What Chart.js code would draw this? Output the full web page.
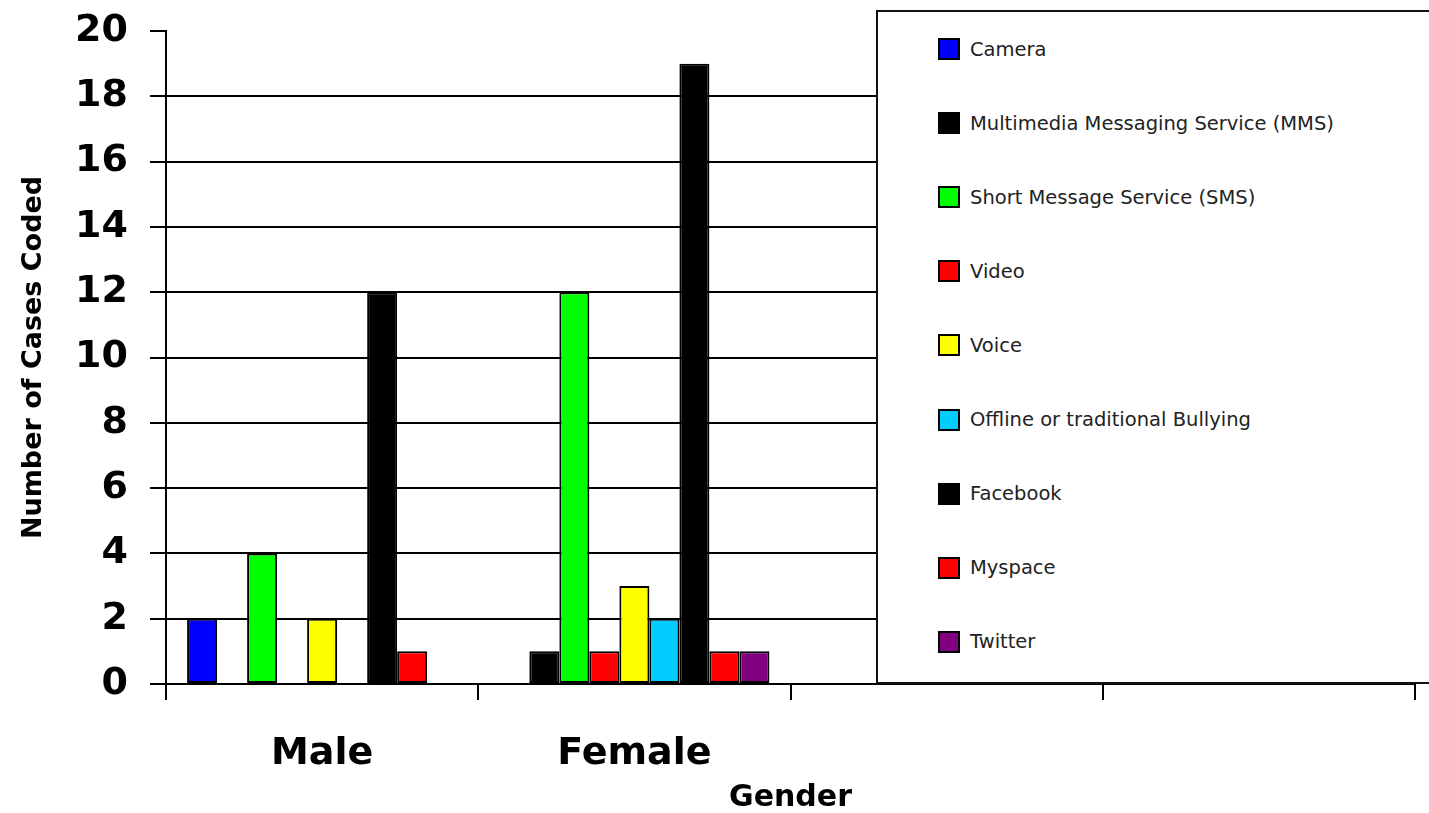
<!DOCTYPE html>
<html>
<head>
<meta charset="utf-8">
<script src="https://cdn.jsdelivr.net/npm/chart.js@4.4.1/dist/chart.umd.min.js"></script>
<style>
  html, body { margin: 0; padding: 0; background: #fff; overflow: hidden; }
  #wrap { position: relative; width: 1429px; height: 813px; }
  #legend {
    position: absolute; left: 876px; top: 10px; width: 600px; height: 674px;
    box-sizing: border-box; border: 2px solid #111; background: #fff;
  }
  .item {
    position: absolute; left: 60px; height: 30px; display: flex; align-items: center;
    font-family: 'DejaVu Sans'; font-size: 19.5px; color: #222; white-space: nowrap;
  }
  .swatch { width: 18px; height: 18px; border: 2px solid #000; margin-right: 10px; flex: none; }
</style>
</head>
<body>
<div id="wrap">
  <canvas id="chart" width="1429" height="813"></canvas>
  <div id="legend"></div>
</div>
<script>
// Gender groups on the x axis (two empty slots follow the labelled groups)
const categories = ['Male', 'Female', '', ''];

// Y axis tick values
const yTicks = [0, 2, 4, 6, 8, 10, 12, 14, 16, 18, 20];

// Series, one list of counts per gender group
const seriesNames = [
  'Camera',
  'Multimedia Messaging Service (MMS)',
  'Short Message Service (SMS)',
  'Video',
  'Voice',
  'Offline or traditional Bullying',
  'Facebook',
  'Myspace',
  'Twitter'
];
const camera   = [2, 0, null, null];
const mms      = [0, 1, null, null];
const sms      = [4, 12, null, null];
const video    = [0, 1, null, null];
const voice    = [2, 3, null, null];
const offline  = [0, 2, null, null];
const facebook = [12, 19, null, null];
const myspace  = [1, 1, null, null];
const twitter  = [0, 1, null, null];

const seriesValues = [camera, mms, sms, video, voice, offline, facebook, myspace, twitter];
const seriesColors = ['#0000FF', '#000000', '#00FF00', '#FF0000', '#FFFF00', '#00CCFF', '#000000', '#FF0000', '#800080'];

Chart.defaults.font.family = "'DejaVu Sans'";
Chart.defaults.color = '#000';

const datasets = seriesNames.map((name, i) => ({
  label: name,
  data: seriesValues[i],
  backgroundColor: seriesColors[i],
  borderColor: '#000',
  borderWidth: 2,
  borderSkipped: false,
  categoryPercentage: 0.865,
  barPercentage: 1.0
}));

const chart = new Chart(document.getElementById('chart'), {
  type: 'bar',
  data: { labels: categories, datasets },
  options: {
    responsive: false,
    animation: false,
    devicePixelRatio: 1,
    layout: { padding: { left: 0, top: 31, right: 14, bottom: 0 } },
    plugins: { legend: { display: false }, tooltip: { enabled: false } },
    scales: {
      x: {
        grid: {
          offset: true, drawOnChartArea: false, drawTicks: true,
          tickLength: 16, color: '#000', lineWidth: 2
        },
        border: { display: true, color: '#000', width: 2 },
        ticks: { font: { size: 38, weight: 'bold' }, padding: 31, color: '#000' },
        title: {
          display: true, text: 'Gender', color: '#000',
          font: { size: 30, weight: 'bold', lineHeight: 1 },
          padding: { top: 1, bottom: 0 }
        },
        afterFit: (scale) => { scale.height = 129; scale.paddingLeft = 0; scale.paddingRight = 0; }
      },
      y: {
        min: 0, max: 20,
        afterBuildTicks: (scale) => { scale.ticks = yTicks.map(v => ({ value: v })); },
        grid: {
          color: (ctx) => (ctx.tick && ctx.tick.value === 20) ? 'rgba(0,0,0,0)' : '#000',
          tickColor: '#000', lineWidth: 2, tickLength: 16
        },
        border: { display: true, color: '#000', width: 2 },
        ticks: { font: { size: 38, weight: 'bold' }, padding: 22, color: '#000' },
        title: {
          display: true, text: 'Number of Cases Coded', color: '#000',
          font: { size: 27, weight: 'bold', lineHeight: 1 },
          padding: { top: 20, bottom: 0 }
        },
        afterFit: (scale) => { scale.width = 166; scale.paddingTop = 0; scale.paddingBottom = 0; }
      }
    }
  }
});

// Legend built from the chart's own datasets
const legendBox = document.getElementById('legend');
chart.data.datasets.forEach((ds, i) => {
  const item = document.createElement('div');
  item.className = 'item';
  const centre = 37 + i * 74.1;
  item.style.top = (centre - 15) + 'px';
  const sw = document.createElement('span');
  sw.className = 'swatch';
  sw.style.background = ds.backgroundColor;
  const txt = document.createElement('span');
  txt.textContent = ds.label;
  item.appendChild(sw);
  item.appendChild(txt);
  legendBox.appendChild(item);
});
</script>
</body>
</html>
